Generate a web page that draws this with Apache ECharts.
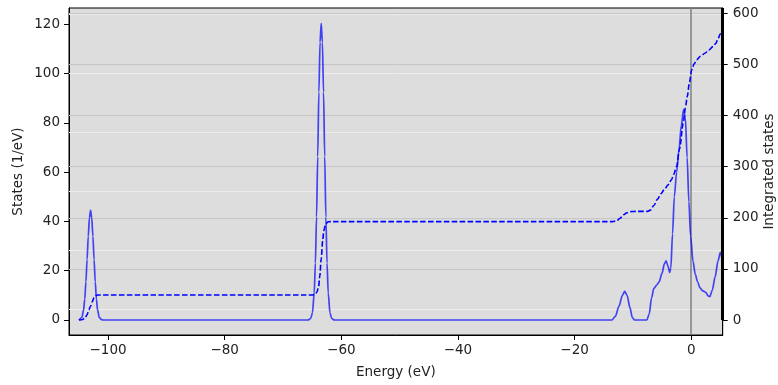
<!DOCTYPE html>
<html>
<head>
<meta charset="utf-8">
<script src="https://cdn.jsdelivr.net/npm/echarts@6/dist/echarts.min.js"></script>
<style>
html,body{margin:0;padding:0;background:#fff;}
#c{width:778px;height:385px;}
</style>
</head>
<body>
<div id="c"></div>
<script>
// ---- data ----
const xTicks = [-100, -80, -60, -40, -20, 0];
const leftTicks = [0, 20, 40, 60, 80, 100, 120];
const rightTicks = [0, 100, 200, 300, 400, 500, 600];
const fermiEnergy = [0];

// density of states [energy (eV), states (1/eV)]
const dosData = [
  [-105,0],[-104.9,0.1],[-104.5,1],[-104.2,4],[-104.0,8.5],[-103.8,15.5],[-103.6,24.5],[-103.4,34],[-103.2,41.5],[-103.0,44.5],[-102.8,41.5],[-102.6,34],[-102.4,24.5],[-102.2,15.5],[-102.0,8.5],[-101.8,4],[-101.5,1],[-101.1,0.1],[-100.8,0],
  [-65.7,0],[-65.25,0.6],[-64.95,2.9],[-64.65,11.1],[-64.45,23.1],[-64.25,41.8],[-64.05,66.4],[-63.85,92.5],[-63.65,112.8],[-63.45,120.5],[-63.25,112.8],[-63.05,92.5],[-62.85,66.4],[-62.65,41.8],[-62.45,23.1],[-62.25,11.1],[-61.95,2.9],[-61.65,0.6],[-61.2,0],
  [-13.6,0],[-13.0,1.5],[-12.4,5.5],[-11.8,10],[-11.4,11.6],[-11.0,10],[-10.5,5],[-10.1,1],[-9.7,0],
  [-7.6,0],[-7.2,2.5],[-6.8,9],[-6.4,12.8],[-5.9,14.2],[-5.5,15.5],[-5.0,19],[-4.6,22.8],[-4.3,24],[-4.0,22],[-3.7,19.3],[-3.5,21],[-3.2,35],[-2.9,50],[-2.5,60],[-2.1,69],[-1.7,79],[-1.3,85.5],[-1.0,82],[-0.7,66],[-0.4,48],[-0.1,34],[0.3,24],[0.7,18.5],[1.1,15.5],[1.5,13],[2.0,11.8],[2.5,11.2],[2.9,9.8],[3.2,9.5],[3.6,12],[4.1,17.5],[4.6,24],[5.0,27.5],[5.3,24.5]
];

// integrated states [energy (eV), integrated states]
const intData = [
  [-105,0],[-104.5,0.5],[-104,3],[-103.6,10],[-103.3,20],[-103,27],[-102.7,36],[-102.4,44],[-102.1,48],[-101.7,49],
  [-65,49],[-64.5,50],[-64.2,54],[-63.9,65],[-63.7,85],[-63.45,120],[-63.2,155],[-63,175],[-62.7,187],[-62.3,192],[-62,192.5],
  [-13.5,192.5],[-12.8,194],[-12.2,199],[-11.6,206],[-11,210],[-10.4,212],[-9.5,212.5],[-7.5,212.5],[-7,215],[-6.4,224],[-5.8,236],[-5.2,247],[-4.5,257],[-4,264],[-3.4,274],[-3,285],[-2.5,300],[-2,335],[-1.37,385],[-1,415],[-0.68,437],[-0.3,465],[0.07,489],[0.5,501],[0.93,509],[1.6,516],[2.35,522],[3.0,528],[3.77,535],[4.2,541],[4.63,551],[5.0,560],[5.3,569]
];

// background guide lines seen in the reference
const bgLinesLeft = [4.35, 28.3, 52.3, 76.3, 100.3, 124.3];
const bgLinesRight = [100, 200, 300, 400, 500, 600];

const X_MIN = -106.7, X_MAX = 5.4;
const YR_MIN = -29.3, YR_MAX = 610.4;
// thick right spine spans the right axis from 0 upward
const rightSpineRange = [0, YR_MAX];

const FONT = 'DejaVu Sans';
const txt = '#222';
const fmt = v => String(v).replace('-', '\u2212');

const chart = echarts.init(document.getElementById('c'), null, {renderer: 'canvas'});
chart.setOption({
  animation: false,
  backgroundColor: '#ffffff',
  grid: {
    left: 69, right: 55.3, top: 8, bottom: 50,
    containLabel: false, outerBoundsMode: 'none',
    show: true, backgroundColor: '#dddddd', borderColor: '#000', borderWidth: 1
  },
  xAxis: {
    type: 'value', min: X_MIN, max: X_MAX,
    name: 'Energy (eV)', nameLocation: 'middle', nameGap: 30, nameMoveOverlap: false,
    nameTextStyle: {fontFamily: FONT, fontSize: 13.5, color: txt},
    axisLine: {show: true, onZero: false, lineStyle: {color: '#000', width: 1}},
    axisTick: {show: true, length: 5, customValues: xTicks, lineStyle: {color: '#000'}},
    axisLabel: {customValues: xTicks, formatter: fmt, fontFamily: FONT, fontSize: 13.5, color: txt, margin: 8},
    splitLine: {show: false}
  },
  yAxis: [
    {
      type: 'value', min: -6.1, max: 126.7, position: 'left',
      name: 'States (1/eV)', nameLocation: 'middle', nameGap: 44, nameRotate: 90, nameMoveOverlap: false,
      nameTextStyle: {fontFamily: FONT, fontSize: 13.5, color: txt},
      axisLine: {show: true, onZero: false, lineStyle: {color: '#000', width: 1}},
      axisTick: {show: true, length: 5, customValues: leftTicks, lineStyle: {color: '#000'}},
      axisLabel: {customValues: leftTicks, formatter: fmt, fontFamily: FONT, fontSize: 13.5, color: txt, margin: 9},
      splitLine: {show: false}
    },
    {
      type: 'value', min: YR_MIN, max: YR_MAX, position: 'right',
      name: 'Integrated states', nameLocation: 'middle', nameGap: 40, nameRotate: 90, nameMoveOverlap: false,
      nameTextStyle: {fontFamily: FONT, fontSize: 13.5, color: txt},
      axisLine: {show: true, onZero: false, lineStyle: {color: '#000', width: 1}},
      axisTick: {show: true, length: 5, customValues: rightTicks, lineStyle: {color: '#000'}},
      axisLabel: {customValues: rightTicks, formatter: fmt, fontFamily: FONT, fontSize: 13.5, color: txt, margin: 10},
      splitLine: {show: false}
    }
  ],
  series: [
    {
      type: 'line', data: [], yAxisIndex: 0, z: 1, silent: true,
      markLine: {
        silent: true, symbol: 'none', label: {show: false}, z: 1,
        lineStyle: {color: '#ececec', width: 1, type: 'solid'},
        data: bgLinesLeft.map(v => ({yAxis: v}))
      }
    },
    {
      type: 'line', data: [], yAxisIndex: 1, z: 1, silent: true,
      markLine: {
        silent: true, symbol: 'none', label: {show: false}, z: 1,
        lineStyle: {color: '#c6c6c6', width: 1, type: 'solid'},
        data: bgLinesRight.map(v => ({yAxis: v}))
      }
    },
    {
      type: 'line', data: [], yAxisIndex: 0, z: 2, silent: true,
      markLine: {
        silent: true, symbol: 'none', label: {show: false}, z: 2,
        lineStyle: {color: '#7f7f7f', width: 1.5, type: 'solid'},
        data: fermiEnergy.map(v => ({xAxis: v}))
      }
    },
    {
      type: 'line', data: [], yAxisIndex: 1, z: 6, silent: true, clip: false,
      markLine: {
        silent: true, symbol: 'none', label: {show: false}, z: 6,
        lineStyle: {color: '#000', width: 3, type: 'solid'},
        data: [[{coord: [X_MAX, rightSpineRange[0]]}, {coord: [X_MAX, rightSpineRange[1]]}]]
      }
    },
    {
      name: 'DOS', type: 'line', data: dosData, yAxisIndex: 0, z: 3,
      showSymbol: false, smooth: 0.3, smoothMonotone: 'x',
      lineStyle: {color: 'rgba(0,0,255,0.7)', width: 1.7}
    },
    {
      name: 'Integrated', type: 'line', data: intData, yAxisIndex: 1, z: 4,
      showSymbol: false, smooth: 0.3, smoothMonotone: 'x',
      lineStyle: {color: '#0000ff', width: 1.6, type: [5.5, 2.4]}
    }
  ]
});
</script>
</body>
</html>
